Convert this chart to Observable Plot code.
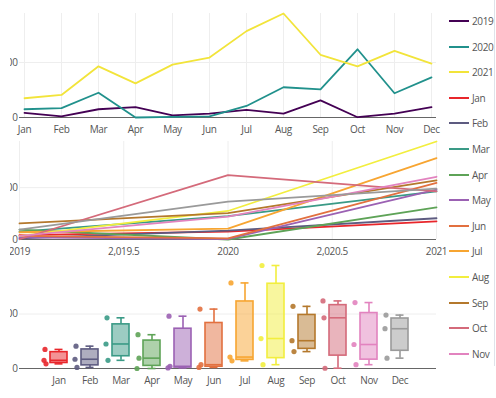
<!DOCTYPE html>
<html>
<head>
<meta charset="utf-8">
<script src="https://cdn.jsdelivr.net/npm/d3@7"></script>
<script src="https://cdn.jsdelivr.net/npm/@observablehq/plot@0.6"></script>
<style>
  body { margin: 0; background: #fff; font-family: "Open Sans", sans-serif; }
  #page { position: relative; width: 496px; height: 398px; overflow: hidden; }
  .panel { position: absolute; left: 10px; }
  .panel text { letter-spacing: -0.35px; }
  #legend { position: absolute; left: 440px; top: 0; width: 54px; height: 366px; overflow: hidden; z-index: 2; }
  .item { position: absolute; left: 9px; height: 14px; display: flex; align-items: center; font-size: 10px; color: #555; letter-spacing: -0.4px; white-space: nowrap; }
  .sw { width: 20px; height: 2px; margin-right: 3px; flex: none; }
  #scroll { position: absolute; left: 494px; top: 0; width: 1px; height: 366px; background: #dfe3ea; }
</style>
</head>
<body>
<div id="page">
  <div id="p1" class="panel" style="top:0px"></div>
  <div id="p2" class="panel" style="top:137px"></div>
  <div id="p3" class="panel" style="top:259px"></div>
  <div id="legend"></div>
  <div id="scroll"></div>
</div>
<script>
const months = ["Jan","Feb","Mar","Apr","May","Jun","Jul","Aug","Sep","Oct","Nov","Dec"];
const years = [2019, 2020, 2021];
const v2019 = [8.5, 2, 15, 19, 4, 7, 14, 7, 31, 0.5, 7, 19];
const v2020 = [15, 17, 45, 0, 1, 2, 21, 55, 51, 124, 44, 73];
const v2021 = [35, 41, 93, 62, 96, 109, 157, 189, 114, 93, 121, 98];
const yearColors = ["#440154", "#21918c", "#f2e43a"];
const monthColors = ["#e8262b","#5d5b80","#3a9a86","#5ea357","#9b61b3","#e2703f","#f7a531","#f2ee3e","#b4782c","#d46a7a","#e283bf","#9a9a9a"];
const yTicks = [0, 100];
const x2Ticks = [2019, 2019.5, 2020, 2020.5, 2021];

const series = [v2019, v2020, v2021];
const rows = [];
years.forEach((yr, yi) => months.forEach((m, mi) => rows.push({year: yr, month: m, value: series[yi][mi]})));

const font = {fontFamily: "'Open Sans', sans-serif", fontSize: "10px", color: "#555", overflow: "hidden", background: "transparent"};
const W = 466;

// Panel 1: by month, one line per year
const p1 = Plot.plot({
  width: W, height: 137, marginLeft: 9, marginRight: 40, marginTop: 13, marginBottom: 20,
  style: font,
  x: {type: "point", domain: months, padding: 0, label: null, tickSize: 0, tickPadding: 8},
  y: {domain: [0, 189], ticks: yTicks, label: null, tickSize: 0, tickPadding: 2},
  color: {domain: years, range: yearColors},
  marks: [
    Plot.ruleX(months, {stroke: "#eee"}),
    Plot.ruleY([100], {stroke: "#eee"}),
    Plot.ruleY([0], {stroke: "#666"}),
    Plot.line(rows, {x: "month", y: "value", z: "year", stroke: "year", strokeWidth: 1.8})
  ]
});
document.getElementById("p1").append(p1);

// Panel 2: by year, one line per month
const p2 = Plot.plot({
  width: W, height: 122, marginLeft: 9, marginRight: 40, marginTop: 4, marginBottom: 20,
  style: font,
  x: {domain: [2019, 2021], ticks: x2Ticks, label: null, tickSize: 0, tickPadding: 8,
      tickFormat: d => Number.isInteger(d) ? String(d) : d3.format(",")(d)},
  y: {domain: [0, 189], ticks: yTicks, label: null, tickSize: 0, tickPadding: 2},
  color: {domain: months, range: monthColors},
  marks: [
    Plot.ruleX(x2Ticks, {stroke: "#eee"}),
    Plot.ruleY([100], {stroke: "#eee"}),
    Plot.ruleY([0], {stroke: "#666"}),
    Plot.line(rows, {x: "year", y: "value", z: "month", stroke: "month", strokeWidth: 1.8, sort: {channel: "x"}})
  ]
});
document.getElementById("p2").append(p2);

// Panel 3: box plots per month (Hyndman type-5 quartiles)
function q5(sorted, p) {
  const n = sorted.length, h = n * p + 0.5;
  const lo = Math.min(Math.max(Math.floor(h), 1), n);
  const hi = Math.min(lo + 1, n);
  return sorted[lo - 1] + (h - lo) * (sorted[hi - 1] - sorted[lo - 1]);
}
const stats = months.map((m, mi) => {
  const vals = series.map(s => s[mi]).sort((a, b) => a - b);
  return {month: m, min: vals[0], q1: q5(vals, 0.25), med: q5(vals, 0.5), q3: q5(vals, 0.75), max: vals[vals.length - 1]};
});

const p3 = Plot.plot({
  width: W, height: 129, marginLeft: 9, marginRight: 40, marginTop: 0, marginBottom: 20,
  style: font,
  x: {type: "band", domain: months, range: [32.45, 405.55], paddingInner: 0.45, paddingOuter: 0.225, label: null, tickSize: 0, tickPadding: 8},
  y: {domain: [0, 200], ticks: yTicks, label: null, tickSize: 0, tickPadding: 2},
  color: {domain: months, range: monthColors},
  marks: [
    Plot.ruleY([100], {stroke: "#eee"}),
    Plot.ruleY([0], {stroke: "#666"}),
    Plot.ruleX(stats, {x: "month", y1: "q3", y2: "max", stroke: "month", strokeWidth: 1.6}),
    Plot.ruleX(stats, {x: "month", y1: "min", y2: "q1", stroke: "month", strokeWidth: 1.6}),
    Plot.tickY(stats, {x: "month", y: "max", stroke: "month", strokeWidth: 1.6, insetLeft: 4.5, insetRight: 4.5}),
    Plot.tickY(stats, {x: "month", y: "min", stroke: "month", strokeWidth: 1.6, insetLeft: 4.5, insetRight: 4.5}),
    Plot.barY(stats, {x: "month", y1: "q1", y2: "q3", fill: "month", fillOpacity: 0.5, stroke: "month", strokeWidth: 1.6}),
    Plot.tickY(stats, {x: "month", y: "med", stroke: "month", strokeWidth: 1.6}),
    ...years.map((yr, yi) => Plot.dot(rows.filter(r => r.year === yr),
      {x: "month", y: "value", fill: "month", r: 2.6, fillOpacity: 0.9, dx: [-13, -15, -14][yi]}))
  ]
});
document.getElementById("p3").append(p3);

// Legend
const legendItems = years.map((y, i) => ({label: String(y), color: yearColors[i]}))
  .concat(months.map((m, i) => ({label: m, color: monthColors[i]})));
const leg = document.getElementById("legend");
legendItems.forEach((it, i) => {
  const d = document.createElement("div");
  d.className = "item";
  d.style.top = (14 + i * 25.6) + "px";
  const sw = document.createElement("div");
  sw.className = "sw";
  sw.style.background = it.color;
  const t = document.createElement("span");
  t.textContent = it.label;
  d.append(sw, t);
  leg.append(d);
});
</script>
</body>
</html>
